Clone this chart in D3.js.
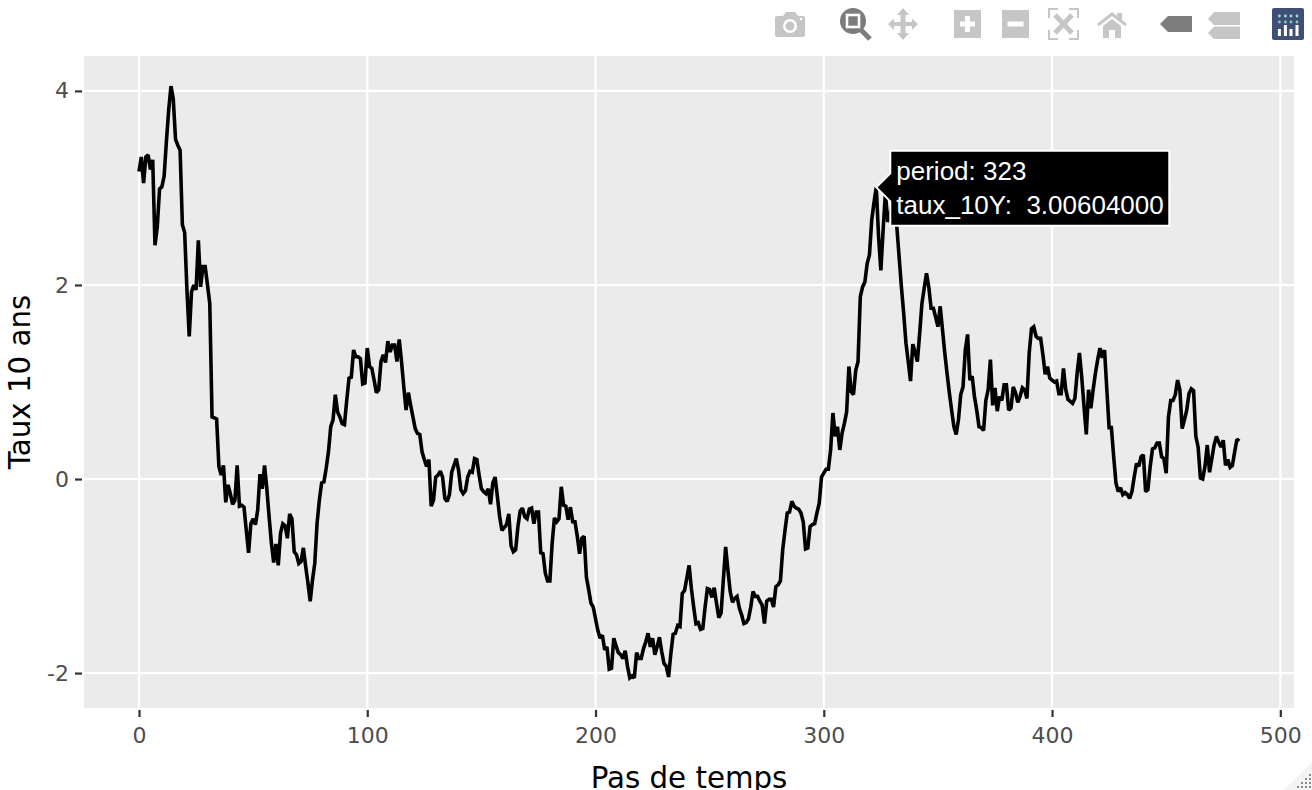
<!DOCTYPE html>
<html lang="fr">
	<head>
		<meta charset="UTF-8">
		<title>Taux 10 ans</title>
		<script src="https://d3js.org/d3.v7.min.js"></script>
		<style>
			html, body {
				margin: 0;
				padding: 0;
				background: white;
				overflow: hidden;
			}

			svg {
				display: block;
			}

			.tick text {
				font-family: "DejaVu Sans", sans-serif;
				font-size: 22px;
				fill: #4d4d4d;
			}

			.axisTitle {
				font-family: "DejaVu Sans", sans-serif;
				font-size: 29.3px;
				fill: black;
			}

			.hover text {
				font-family: "Liberation Sans", sans-serif;
				font-size: 26px;
				fill: white;
				white-space: pre;
			}
		</style>
	</head>
	<body>
		<div id="chart"></div>
		<script>
			const xTicks = [0, 100, 200, 300, 400, 500]
			const yTicks = [-2, 0, 2, 4]
			const xTitle = "Pas de temps"
			const yTitle = "Taux 10 ans"
			const hoverPeriod = 323
			const hoverTaux = 3.00604
			const hoverLines = ["period: 323", "taux_10Y:  3.00604000"]

			// one value per period, starting at period 0
			const taux = [
				3.17, 3.32, 3.05, 3.32, 3.34, 3.19, 3.29, 2.41, 2.60, 2.99,
				3.01, 3.12, 3.48, 3.80, 4.05, 3.92, 3.50, 3.44, 3.39, 2.62,
				2.54, 1.95, 1.47, 1.93, 2.00, 1.95, 2.46, 1.98, 2.19, 2.19,
				2.00, 1.81, 0.64, 0.63, 0.62, 0.13, 0.04, 0.14, -0.24, -0.06,
				-0.15, -0.26, -0.22, 0.14, -0.28, -0.27, -0.29, -0.53, -0.76, -0.46,
				-0.41, -0.47, -0.32, 0.05, -0.10, 0.14, -0.10, -0.39, -0.66, -0.86,
				-0.67, -0.89, -0.56, -0.46, -0.48, -0.61, -0.36, -0.41, -0.75, -0.78,
				-0.87, -0.85, -0.71, -0.90, -1.07, -1.26, -1.04, -0.87, -0.46, -0.22,
				-0.04, -0.03, 0.11, 0.28, 0.54, 0.61, 0.87, 0.69, 0.64, 0.57,
				0.56, 0.81, 1.04, 1.05, 1.33, 1.26, 1.26, 1.24, 0.98, 0.99,
				1.35, 1.16, 1.14, 1.02, 0.89, 0.92, 1.21, 1.28, 1.20, 1.42,
				1.31, 1.38, 1.38, 1.21, 1.44, 1.21, 0.95, 0.71, 0.89, 0.76,
				0.64, 0.52, 0.47, 0.46, 0.28, 0.20, 0.13, 0.20, -0.28, -0.22,
				0.02, 0.04, 0.08, 0.02, -0.20, -0.23, -0.16, 0.07, 0.14, 0.21,
				0.09, -0.11, -0.15, -0.12, 0.02, 0.08, 0.07, 0.21, 0.20, 0.04,
				-0.10, -0.13, -0.15, -0.10, -0.26, -0.04, 0.02, -0.18, -0.39, -0.53,
				-0.50, -0.47, -0.36, -0.69, -0.75, -0.73, -0.49, -0.33, -0.30, -0.39,
				-0.41, -0.31, -0.30, -0.46, -0.34, -0.34, -0.76, -0.77, -0.97, -1.05,
				-1.05, -0.66, -0.40, -0.44, -0.41, -0.08, -0.27, -0.28, -0.42, -0.29,
				-0.44, -0.44, -0.59, -0.77, -0.61, -0.59, -1.01, -1.14, -1.28, -1.32,
				-1.44, -1.56, -1.64, -1.61, -1.76, -1.73, -1.96, -1.95, -1.64, -1.72,
				-1.79, -1.81, -1.85, -1.77, -1.93, -2.05, -2.03, -2.05, -1.79, -1.85,
				-1.85, -1.75, -1.68, -1.59, -1.73, -1.64, -1.81, -1.73, -1.63, -1.78,
				-1.90, -1.93, -2.04, -1.80, -1.60, -1.59, -1.51, -1.52, -1.18, -1.15,
				-1.02, -0.89, -1.13, -1.32, -1.49, -1.48, -1.55, -1.54, -1.32, -1.13,
				-1.14, -1.22, -1.12, -1.28, -1.43, -1.38, -1.04, -0.70, -0.94, -1.16,
				-1.27, -1.23, -1.21, -1.33, -1.40, -1.49, -1.48, -1.44, -1.32, -1.16,
				-1.21, -1.21, -1.26, -1.30, -1.49, -1.26, -1.24, -1.24, -1.32, -1.11,
				-1.09, -1.05, -0.73, -0.53, -0.35, -0.34, -0.23, -0.28, -0.30, -0.31,
				-0.35, -0.44, -0.72, -0.71, -0.49, -0.47, -0.46, -0.35, -0.25, 0.02,
				0.06, 0.10, 0.10, 0.30, 0.68, 0.44, 0.54, 0.30, 0.47, 0.57,
				0.69, 1.16, 0.90, 0.87, 1.12, 1.21, 1.88, 1.98, 2.03, 2.22,
				2.31, 2.67, 2.85, 3.006, 2.50, 2.15, 2.57, 2.95, 2.65, 2.72,
				2.85, 2.80, 2.60, 2.29, 1.98, 1.71, 1.40, 1.21, 1.01, 1.39,
				1.31, 1.21, 1.50, 1.81, 1.97, 2.12, 1.98, 1.76, 1.76, 1.67,
				1.57, 1.78, 1.54, 1.30, 1.09, 0.89, 0.71, 0.54, 0.46, 0.61,
				0.87, 0.95, 1.33, 1.49, 1.02, 1.06, 0.85, 0.71, 0.54, 0.53,
				0.50, 0.81, 0.92, 1.23, 0.76, 0.94, 0.70, 0.85, 0.81, 0.97,
				0.97, 0.71, 0.73, 0.95, 0.89, 0.79, 0.85, 0.94, 0.92, 0.83,
				1.30, 1.55, 1.57, 1.47, 1.45, 1.45, 1.28, 1.08, 1.16, 1.04,
				1.02, 1.00, 1.01, 0.88, 0.88, 1.14, 0.92, 0.82, 0.80, 0.78,
				0.83, 1.09, 1.30, 1.05, 0.75, 0.46, 0.92, 0.73, 0.92, 1.09,
				1.23, 1.35, 1.25, 1.33, 0.92, 0.53, 0.53, 0.23, -0.04, -0.13,
				-0.09, -0.16, -0.14, -0.16, -0.20, -0.13, 0.02, 0.16, 0.13, 0.23,
				0.25, -0.13, -0.11, 0.13, 0.31, 0.32, 0.37, 0.37, 0.23, 0.21,
				0.06, 0.64, 0.81, 0.81, 0.87, 1.02, 0.92, 0.52, 0.61, 0.71,
				0.88, 0.93, 0.91, 0.44, 0.33, 0.01, 0.00, 0.13, 0.35, 0.07,
				0.21, 0.35, 0.44, 0.38, 0.33, 0.40, 0.14, 0.20, 0.12, 0.14,
				0.28, 0.41, 0.39
			]

			const width = 1312
			const height = 790
			const panel = {left: 84, right: 1294, top: 56, bottom: 708}

			const svg = d3.select("#chart").append("svg")
				.attr("width", width)
				.attr("height", height)

			const x = d3.scaleLinear().domain([-24.1, 506]).range([panel.left, panel.right])
			const y = d3.scaleLinear().domain([-2.36, 4.36]).range([panel.bottom, panel.top])

			svg.append("rect")
				.attr("x", panel.left)
				.attr("y", panel.top)
				.attr("width", panel.right - panel.left)
				.attr("height", panel.bottom - panel.top)
				.attr("fill", "#ebebeb")

			// grid lines
			svg.append("g").selectAll("line")
				.data(xTicks)
				.join("line")
				.attr("x1", d => x(d))
				.attr("x2", d => x(d))
				.attr("y1", panel.top)
				.attr("y2", panel.bottom)
				.attr("stroke", "white")
				.attr("stroke-width", 2.2)
			svg.append("g").selectAll("line")
				.data(yTicks)
				.join("line")
				.attr("x1", panel.left)
				.attr("x2", panel.right)
				.attr("y1", d => y(d))
				.attr("y2", d => y(d))
				.attr("stroke", "white")
				.attr("stroke-width", 2.2)

			// axes, ticks sit 2px off the panel
			function styleAxis(g) {
				g.select(".domain").remove()
				g.selectAll(".tick line").attr("stroke", "#333333").attr("stroke-width", 2.2)
			}

			svg.append("g")
				.attr("transform", `translate(0,${panel.bottom})`)
				.call(d3.axisBottom(x).tickValues(xTicks).tickSize(9).tickPadding(10).tickFormat(d => String(d)))
				.call(styleAxis)
				.call(g => g.selectAll(".tick line").attr("y1", 2))
			svg.append("g")
				.attr("transform", `translate(${panel.left},0)`)
				.call(d3.axisLeft(y).tickValues(yTicks).tickSize(9).tickPadding(6).tickFormat(d => String(d)))
				.call(styleAxis)
				.call(g => g.selectAll(".tick line").attr("x1", -2))

			svg.append("text")
				.attr("class", "axisTitle")
				.attr("x", 689)
				.attr("y", 788)
				.attr("text-anchor", "middle")
				.text(xTitle)
			svg.append("text")
				.attr("class", "axisTitle")
				.attr("transform", "translate(29.5,382) rotate(-90)")
				.attr("text-anchor", "middle")
				.text(yTitle)

			// series
			const line = d3.line()
				.x((d, i) => x(i))
				.y(d => y(d))

			svg.append("path")
				.datum(taux)
				.attr("d", line)
				.attr("fill", "none")
				.attr("stroke", "black")
				.attr("stroke-width", 3.6)
				.attr("stroke-linejoin", "miter")
				.attr("stroke-miterlimit", 2)

			// hover label
			const hx = x(hoverPeriod)
			const hy = y(hoverTaux)
			const hover = svg.append("g").attr("class", "hover")
			hover.append("path")
				.attr("d", `M${hx},${hy}L${hx + 14},${hy - 14}V${hy - 36.5}H${hx + 293}V${hy + 38.5}H${hx + 14}V${hy + 14}Z`)
				.attr("fill", "black")
				.attr("stroke", "white")
				.attr("stroke-width", 2)
			hover.selectAll("text")
				.data(hoverLines)
				.join("text")
				.attr("x", hx + 20)
				.attr("y", (d, i) => hy - 7 + i * 33.6)
				.attr("xml:space", "preserve")
				.text(d => d)

			// modebar
			const bar = svg.append("g")
			const off = "#c6c6c6"
			const on = "#7c7c7c"

			function icon(dx, dy) {
				return bar.append("g").attr("transform", `translate(${dx},${dy})`)
			}

			// camera
			let g = icon(775, 11)
			g.append("path").attr("d", "M2,5H8L11,1H20L23,5H28Q30,5 30,7V24Q30,26 28,26H2Q0,26 0,24V7Q0,5 2,5Z").attr("fill", off)
			g.append("circle").attr("cx", 15).attr("cy", 15).attr("r", 7).attr("fill", "white")
			g.append("circle").attr("cx", 15).attr("cy", 15).attr("r", 4.5).attr("fill", off)
			g.append("circle").attr("cx", 26).attr("cy", 8).attr("r", 1.3).attr("fill", "white")

			// zoom box
			g = icon(840, 8)
			g.append("circle").attr("cx", 13).attr("cy", 13).attr("r", 13).attr("fill", on)
			g.append("line").attr("x1", 20).attr("y1", 21).attr("x2", 30).attr("y2", 31).attr("stroke", on).attr("stroke-width", 5)
			g.append("rect").attr("x", 7).attr("y", 7).attr("width", 12).attr("height", 12).attr("fill", on).attr("stroke", "white").attr("stroke-width", 2.6)

			// pan
			g = icon(888, 8)
			g.append("path")
				.attr("d", "M15,0L21,7H17.5V14H24V10.5L30,16L24,22V18H17.5V25H21L15,32L9,25H12.5V18H6V22L0,16L6,10.5V14H12.5V7H9Z")
				.attr("fill", off)

			// zoom in, zoom out
			g = icon(954, 10)
			g.append("rect").attr("width", 27).attr("height", 28).attr("fill", off)
			g.append("path").attr("d", "M11,6H16V11.5H21V16.5H16V22H11V16.5H6V11.5H11Z").attr("fill", "white")
			g = icon(1002, 10)
			g.append("rect").attr("width", 27).attr("height", 28).attr("fill", off)
			g.append("rect").attr("x", 5.5).attr("y", 11.5).attr("width", 16).attr("height", 5).attr("fill", "white")

			// autoscale
			g = icon(1048, 8)
			g.append("path")
				.attr("d", "M1,10V1H10M21,1H30V10M30,22V31H21M10,31H1V22")
				.attr("fill", "none")
				.attr("stroke", off)
				.attr("stroke-width", 2)
			g.append("path")
				.attr("d", "M7,7L24,25M24,7L7,25")
				.attr("stroke", off)
				.attr("stroke-width", 5)

			// home
			g = icon(1097, 11)
			g.append("path")
				.attr("d", "M0,13L15,1L20,5V2H25V9L30,13L28,15L15,5L2,15Z")
				.attr("fill", off)
			g.append("path").attr("d", "M6,15L15,8L24,15V27H18V19H12V27H6Z").attr("fill", off)

			// hover modes
			g = icon(1160, 16)
			g.append("path").attr("d", "M0,8L8,0H32V16H8Z").attr("fill", on)
			g = icon(1208, 11)
			g.append("path").attr("d", "M0,8L6,1H32V14H6Z").attr("fill", off)
			g.append("path").attr("d", "M0,22L6,15.5H32V28H6Z").attr("fill", off)

			// plotly logo
			g = icon(1272, 8)
			g.append("rect").attr("width", 32).attr("height", 32).attr("rx", 2).attr("fill", "#3f4f75")
			const dotX = [7.4, 13.4, 19, 25]
			g.selectAll(".dotA").data(dotX).join("circle").attr("class", "dotA")
				.attr("cx", d => d).attr("cy", 8).attr("r", 1.4).attr("fill", "#a9dcd0")
			g.selectAll(".dotB").data(dotX).join("circle").attr("class", "dotB")
				.attr("cx", d => d).attr("cy", 14).attr("r", 1.4).attr("fill", "#80cfbe")
			g.selectAll(".barL").data([[7.4, 21], [13.4, 17], [19, 21], [25, 17]]).join("rect").attr("class", "barL")
				.attr("x", d => d[0] - 1.5).attr("y", d => d[1]).attr("width", 3).attr("height", d => 28 - d[1]).attr("fill", "white")

			// resize grip
			svg.append("path").attr("d", "M1284,790L1312,762V790Z").attr("fill", "#f3f3f3")
			const gripX = [1297, 1301, 1305, 1309]
			const gripY = [774, 778, 782, 786]
			gripX.forEach((gx, i) => {
				gripY.slice(3 - i).forEach(gy => {
					svg.append("rect")
						.attr("x", gx)
						.attr("y", gy)
						.attr("width", 2)
						.attr("height", 2)
						.attr("fill", "#8a8a8a")
				})
			})
		</script>
	</body>
</html>
